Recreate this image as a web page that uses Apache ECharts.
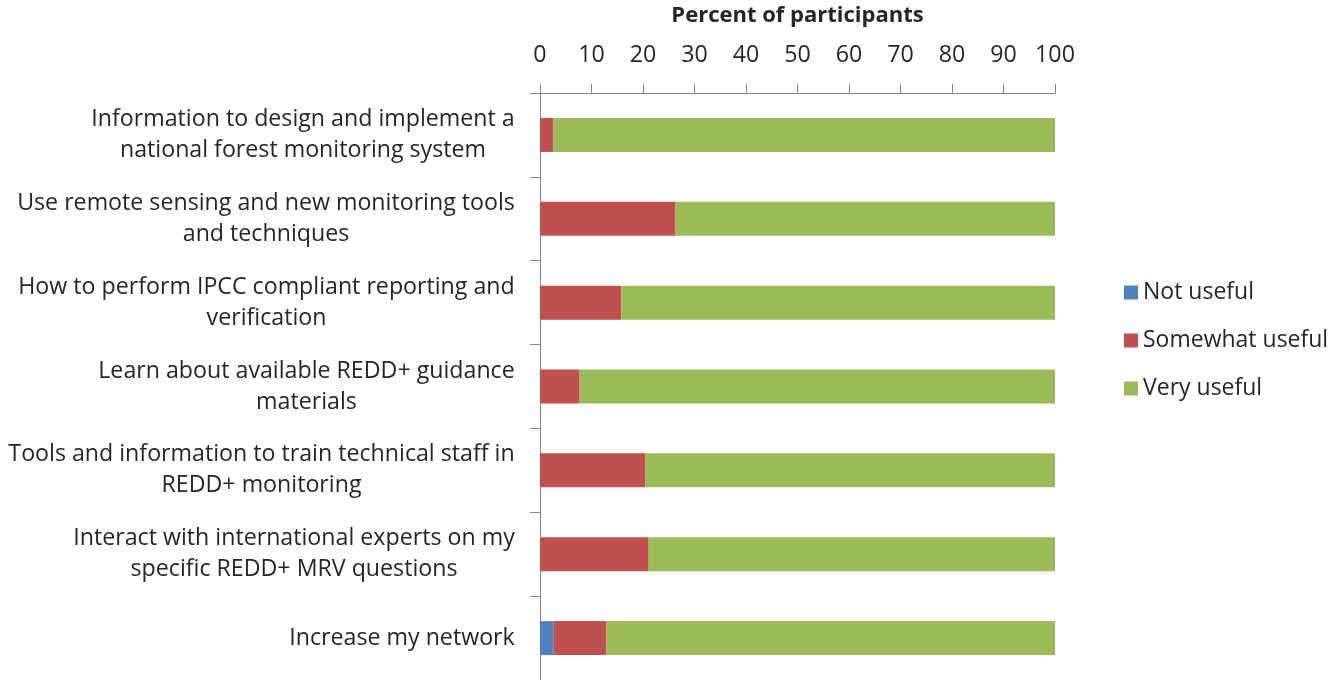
<!DOCTYPE html>
<html>
<head>
<meta charset="utf-8">
<script src="https://cdn.jsdelivr.net/npm/echarts@6/dist/echarts.min.js"></script>
<style>html,body{margin:0;padding:0;background:#fff}#c{width:1331px;height:680px}</style>
</head>
<body>
<div id="c"></div>
<script>
const categories = [
  "Information to design and implement a\nnational forest monitoring system",
  "Use remote sensing and new monitoring tools\nand techniques",
  "How to perform IPCC compliant reporting and\nverification",
  "Learn about available REDD+ guidance\nmaterials",
  "Tools and information to train technical staff in\nREDD+ monitoring",
  "Interact with international experts on my\nspecific REDD+ MRV questions",
  "Increase my network"
];
const notUseful = [0, 0, 0, 0, 0, 0, 2.6];
const somewhatUseful = [2.6, 26.3, 15.8, 7.7, 20.5, 21.1, 10.3];
const veryUseful = [97.4, 73.7, 84.2, 92.3, 79.5, 78.9, 87.1];
const xTicks = [0, 10, 20, 30, 40, 50, 60, 70, 80, 90, 100];
const seriesNames = ["Not useful", "Somewhat useful", "Very useful"];

const FONT = '"Open Sans"';
const FS = 23.2;
const TXT = '#262626';
const ctx = document.createElement('canvas').getContext('2d');
ctx.font = FS + 'px ' + FONT;
const rich = {};
const labelMap = {};
categories.forEach((c, i) => {
  const lines = c.split('\n');
  const w = Math.ceil(Math.max(...lines.map(l => ctx.measureText(l).width)));
  rich['r' + i] = { width: w, align: 'center', fontSize: FS, fontFamily: FONT, color: TXT, lineHeight: 31 };
  labelMap[c] = lines.map(l => '{r' + i + '|' + l + '}').join('\n');
});

const chart = echarts.init(document.getElementById('c'));
const colors = ['#4F81BD', '#C0504D', '#9BBB59'];
const data = [notUseful, somewhatUseful, veryUseful];
chart.setOption({
  animation: false,
  color: colors,
  textStyle: { fontFamily: FONT },
  grid: { left: 540, right: 276, top: 90, bottom: -1, containLabel: false },
  legend: {
    orient: 'vertical', left: 1119, top: 276, itemGap: 25,
    itemWidth: 14, itemHeight: 14, icon: 'rect',
    textStyle: { fontSize: 23, color: TXT, fontFamily: FONT },
    data: seriesNames
  },
  xAxis: {
    type: 'value', position: 'top', min: 0, max: 100, interval: 10,
    name: 'Percent of participants', nameLocation: 'middle', nameGap: 66,
    nameTextStyle: { fontSize: 22, fontWeight: 'bold', color: TXT, fontFamily: FONT },
    axisLine: { show: true, lineStyle: { color: '#868686', width: 1 } },
    axisTick: { show: true, length: 9, lineStyle: { color: '#868686' } },
    axisLabel: { fontSize: FS, color: TXT, margin: 26, fontFamily: FONT,
      formatter: v => xTicks.includes(v) ? String(v) : '' },
    splitLine: { show: false }
  },
  yAxis: {
    type: 'category', inverse: true, data: categories,
    axisLine: { show: true, lineStyle: { color: '#868686', width: 1 } },
    axisTick: { show: true, length: 10, lineStyle: { color: '#868686' } },
    axisLabel: { margin: 25, formatter: v => labelMap[v], rich: rich, color: TXT, fontSize: FS, fontFamily: FONT }
  },
  series: seriesNames.map((n, i) => ({
    name: n, type: 'bar', stack: 'total', data: data[i],
    barWidth: 34,
    itemStyle: { color: colors[i] }
  }))
});
</script>
</body>
</html>
